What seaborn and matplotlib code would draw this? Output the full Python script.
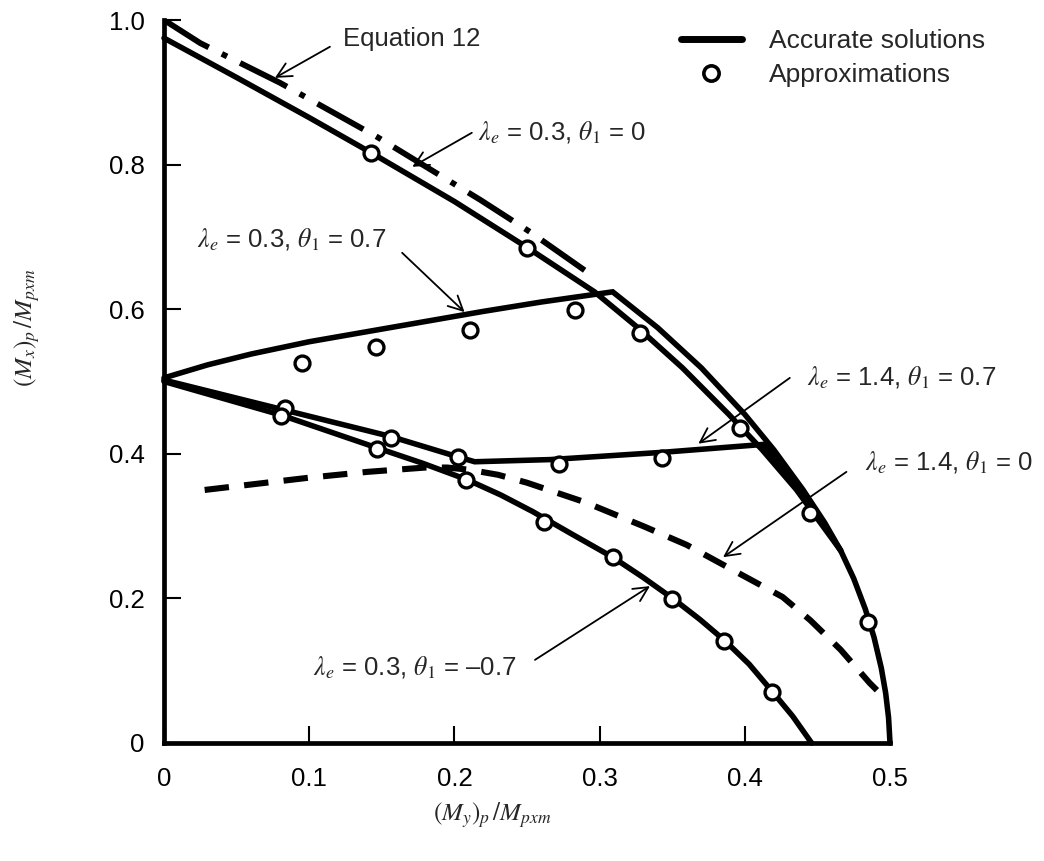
import matplotlib
matplotlib.use("Agg")
import matplotlib.pyplot as plt
from matplotlib.lines import Line2D
import seaborn as sns

# ----------------------------
# Data
# ----------------------------
# Equation 12 (dash-dot)
eq12_x = [0.0, 0.025, 0.08, 0.147, 0.218, 0.252, 0.291]
eq12_y = [1.0, 0.968, 0.913, 0.838, 0.751, 0.707, 0.652]

# lambda_e = 0.3, theta_1 = 0 (accurate, inner branch + common tail to 0.5)
l03_t0_x = [0.0, 0.05, 0.1, 0.143, 0.2, 0.25, 0.2965, 0.3266, 0.357, 0.389, 0.412,
            0.4355, 0.452, 0.466, 0.475, 0.483, 0.489, 0.494, 0.497, 0.499, 0.5]
l03_t0_y = [0.975, 0.9205, 0.865, 0.816, 0.749, 0.6855, 0.624, 0.574, 0.519, 0.4545, 0.4055,
            0.3505, 0.3048, 0.2663, 0.2276, 0.1852, 0.1462, 0.1037, 0.0692, 0.0352, 0.0]

# lambda_e = 0.3, theta_1 = 0.7 (accurate, rises then outer branch)
l03_t07_x = [0.0, 0.03, 0.06, 0.1, 0.14, 0.18, 0.22, 0.26, 0.309,
             0.34, 0.37, 0.40, 0.42, 0.44, 0.455, 0.466]
l03_t07_y = [0.505, 0.523, 0.538, 0.555, 0.569, 0.583, 0.597, 0.61, 0.624,
             0.5744, 0.519, 0.4545, 0.4055, 0.3505, 0.3048, 0.2663]

# lambda_e = 1.4, theta_1 = 0.7 (accurate)
l14_t07_x = [0.0, 0.082, 0.156, 0.202, 0.214, 0.266, 0.343, 0.413, 0.43, 0.445, 0.456, 0.466]
l14_t07_y = [0.502, 0.461, 0.424, 0.396, 0.389, 0.392, 0.402, 0.413, 0.37, 0.33, 0.297, 0.2663]

# lambda_e = 0.3, theta_1 = -0.7 (accurate)
l03_tm07_x = [0.0, 0.08, 0.147, 0.178, 0.209, 0.232, 0.254, 0.28, 0.309, 0.33, 0.351,
              0.369, 0.386, 0.403, 0.419, 0.433, 0.446]
l03_tm07_y = [0.5, 0.454, 0.408, 0.387, 0.364, 0.343, 0.32, 0.29, 0.257, 0.229, 0.199,
              0.171, 0.142, 0.109, 0.071, 0.037, 0.0]

# lambda_e = 1.4, theta_1 = 0 (dashed)
l14_t0_x = [0.028, 0.1, 0.14, 0.18, 0.195, 0.21, 0.23, 0.25, 0.29, 0.33, 0.36, 0.392,
            0.426, 0.445, 0.466, 0.486, 0.491]
l14_t0_y = [0.35, 0.367, 0.375, 0.381, 0.381, 0.378, 0.371, 0.36, 0.333, 0.30, 0.274, 0.239,
            0.202, 0.17, 0.129, 0.083, 0.073]

# approximations (circles)
approx_x = [0.1426, 0.25, 0.328, 0.095, 0.146, 0.211, 0.283,
            0.083, 0.0805, 0.156, 0.147, 0.2025, 0.208, 0.272, 0.343, 0.397,
            0.262, 0.309, 0.350, 0.386, 0.419, 0.445, 0.485]
approx_y = [0.816, 0.685, 0.567, 0.526, 0.548, 0.571, 0.599,
            0.463, 0.452, 0.422, 0.407, 0.396, 0.364, 0.386, 0.394, 0.436,
            0.306, 0.257, 0.199, 0.141, 0.071, 0.318, 0.167]

x_ticks = [0, 0.1, 0.2, 0.3, 0.4, 0.5]
x_tick_labels = ["0", "0.1", "0.2", "0.3", "0.4", "0.5"]
y_ticks = [0, 0.2, 0.4, 0.6, 0.8, 1.0]
y_tick_labels = ["0", "0.2", "0.4", "0.6", "0.8", "1.0"]

# ----------------------------
# Style
# ----------------------------
sns.set_style("ticks")
plt.rcParams["font.family"] = ["Liberation Sans", "DejaVu Sans"]
plt.rcParams["mathtext.fontset"] = "stix"

fig = plt.figure(figsize=(10.44, 8.61), dpi=100)
ax = fig.add_axes([164 / 1044, 1 - 743 / 861, 726 / 1044, 723 / 861])

LW = 4.0
line_kw = dict(color="black", lw=LW, sort=False, estimator=None, clip_on=False,
               solid_joinstyle="miter", ax=ax)

sns.lineplot(x=l03_t0_x, y=l03_t0_y, **line_kw)
sns.lineplot(x=l03_t07_x, y=l03_t07_y, **line_kw)
sns.lineplot(x=l14_t07_x, y=l14_t07_y, **line_kw)
sns.lineplot(x=l03_tm07_x, y=l03_tm07_y, **line_kw)
sns.lineplot(x=eq12_x, y=eq12_y, color="black", lw=4.2, sort=False, estimator=None,
             linestyle=(0, (9.0, 2.5, 1.0, 2.5)), ax=ax)
sns.lineplot(x=l14_t0_x, y=l14_t0_y, color="black", lw=4.4, sort=False, estimator=None,
             linestyle=(0, (4.0, 2.5)), ax=ax)

sns.scatterplot(x=approx_x, y=approx_y, marker="o", s=115, color="white",
                edgecolor="black", linewidth=2.4, zorder=5, ax=ax, clip_on=False)

ax.set_xlim(0, 0.5)
ax.set_ylim(0, 1.0)
ax.set_xticks(x_ticks, x_tick_labels)
ax.set_yticks(y_ticks, y_tick_labels)
ax.tick_params(direction="in", length=12, width=1.5, labelsize=18.5, colors="black")
ax.tick_params(axis="y", pad=14)
ax.tick_params(axis="x", pad=17)
sns.despine(ax=ax)
for side in ["left", "bottom"]:
    ax.spines[side].set_linewidth(3.4)
    ax.spines[side].set_color("black")

# ----------------------------
# Annotations
# ----------------------------
TXT = 18.5
arrow = dict(arrowstyle="->", color="black", lw=1.3, mutation_scale=26,
             shrinkA=0, shrinkB=0)

notes = [
    ("Equation 12", (0.123, 0.974), (0.1143, 0.963), (0.0764, 0.920)),
    (r"$\lambda_e$ = 0.3, $\theta_{\mathit{1}}$ = 0", (0.216, 0.844), (0.212, 0.844), (0.171, 0.797)),
    (r"$\lambda_e$ = 0.3, $\theta_{\mathit{1}}$ = 0.7", (0.0227, 0.696), (0.164, 0.678), (0.207, 0.596)),
    (r"$\lambda_e$ = 1.4, $\theta_{\mathit{1}}$ = 0.7", (0.443, 0.505), (0.431, 0.505), (0.368, 0.414)),
    (r"$\lambda_e$ = 1.4, $\theta_{\mathit{1}}$ = 0", (0.483, 0.387), (0.470, 0.375), (0.385, 0.257)),
    (r"$\lambda_e$ = 0.3, $\theta_{\mathit{1}}$ = –0.7", (0.1026, 0.104), (0.2555, 0.115), (0.3347, 0.217)),
]
for label, txt_pos, tail, head in notes:
    ax.text(txt_pos[0], txt_pos[1], label, fontsize=TXT, ha="left", va="center",
            clip_on=False)
    ax.annotate("", xy=head, xytext=tail, arrowprops=arrow)

# legend
handles = [
    Line2D([], [], color="black", lw=5),
    Line2D([], [], marker="o", ls="", mfc="white", mec="black", ms=11, mew=2.6),
]
fig.legend(handles, ["Accurate solutions", "Approximations"], loc="upper left",
           bbox_to_anchor=(681 / 1044, 1 - 29 / 861), frameon=False, fontsize=19,
           handlelength=2.3, handletextpad=1.05, labelspacing=0.38, borderpad=0,
           borderaxespad=0)

# axis labels (placed like the original, not centred)
fig.text(492 / 1044, 1 - 815 / 861, r"$(M_y)_p\,/M_{pxm}$", fontsize=18,
         ha="center", va="center")
fig.text(27 / 1044, 1 - 328 / 861, r"$(M_x)_p\,/M_{pxm}$", fontsize=18,
         ha="center", va="center", rotation=90)

fig.savefig("out.png", dpi=100)
plt.close(fig)
